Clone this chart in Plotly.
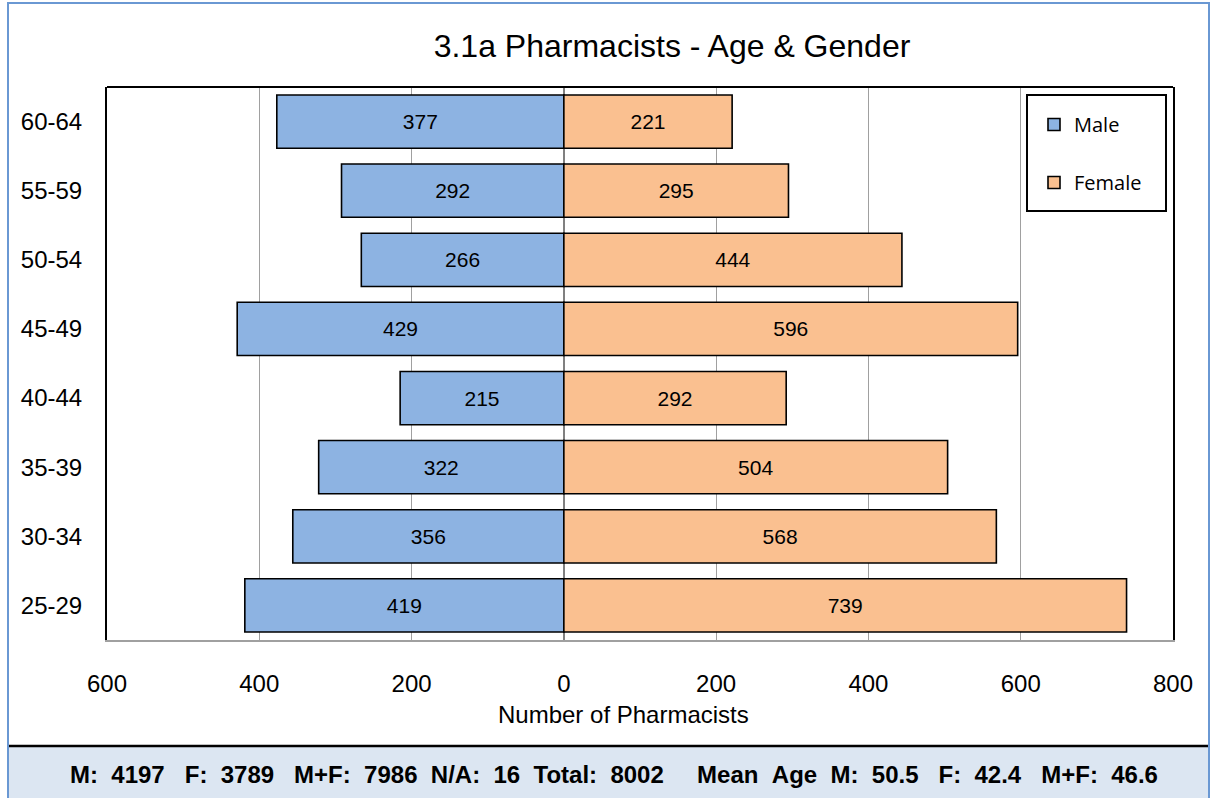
import plotly.graph_objects as go

# ---- data ----
age_groups = ["25-29", "30-34", "35-39", "40-44", "45-49", "50-54", "55-59", "60-64"]
male = [419, 356, 322, 215, 429, 266, 292, 377]
female = [739, 568, 504, 292, 596, 444, 295, 221]
x_tick_vals = [-600, -400, -200, 0, 200, 400, 600, 800]
x_tick_text = ["600", "400", "200", "0", "200", "400", "600", "800"]
title_text = "3.1a Pharmacists - Age & Gender"
x_title = "Number of Pharmacists"
summary = [("M", "4197"), ("F", "3789"), ("M+F", "7986"), ("N/A", "16"), ("Total", "8002")]
mean_age = [("M", "50.5"), ("F", "42.4"), ("M+F", "46.6")]

W, H = 1211, 798
L, R, T, B = 107, 1173, 87, 640
FONT = "Liberation Sans, Arial, sans-serif"

def px(x):
    return (x - L) / (R - L)

def py(y):
    return (B - y) / (B - T)

fig = go.Figure()
fig.add_trace(go.Bar(
    y=age_groups, x=[-v for v in male], orientation="h", name="Male",
    marker=dict(color="#8db3e2", line=dict(color="#000000", width=1.6)),
    text=[str(v) for v in male], textposition="inside", insidetextanchor="middle",
    textangle=0, textfont=dict(family=FONT, size=21, color="#000000"),
    legendgroup="m", hoverinfo="skip",
))
fig.add_trace(go.Bar(
    y=age_groups, x=female, orientation="h", name="Female",
    marker=dict(color="#fac090", line=dict(color="#000000", width=1.6)),
    text=[str(v) for v in female], textposition="inside", insidetextanchor="middle",
    textangle=0, textfont=dict(family=FONT, size=21, color="#000000"),
    legendgroup="f", hoverinfo="skip",
))

sp = "\u00a0"
part1 = [f"{k}:{sp * 2}{v}" for k, v in summary]
part2 = [f"{k}:{sp * 2}{v}" for k, v in mean_age]
summary_text = (sp * 3).join(part1[:3]) + sp * 2 + part1[3] + sp * 2 + part1[4]
summary_text += sp * 5 + "Mean" + sp * 2 + "Age" + sp * 2 + (sp * 3).join(part2)

fig.update_layout(
    width=W, height=H,
    margin=dict(l=L, r=W - R, t=T, b=H - B, autoexpand=False),
    paper_bgcolor="#ffffff", plot_bgcolor="#ffffff",
    barmode="relative", bargap=0.23,
    font=dict(family=FONT, size=24, color="#000000"),
    title=dict(text=title_text, xref="paper", x=px(672), xanchor="center",
               y=1 - 46 / H, yanchor="middle",
               font=dict(family=FONT, size=32, color="#000000")),
    xaxis=dict(range=[-600, 800], tickvals=x_tick_vals, ticktext=x_tick_text,
               showgrid=True, gridcolor="#a0a0a0", gridwidth=1.3,
               zeroline=True, zerolinecolor="#808080", zerolinewidth=1.5,
               showline=True, linecolor="#a0a0a0", linewidth=2, mirror=False,
               ticks="", ticklabelstandoff=21,
               tickfont=dict(family=FONT, size=24, color="#000000"), fixedrange=True),
    yaxis=dict(showgrid=False, zeroline=False, showline=True, linecolor="#000000",
               linewidth=2, mirror=True, ticks="", ticklabelstandoff=18,
               tickfont=dict(family=FONT, size=24, color="#000000"), fixedrange=True),
    legend=dict(x=px(1034), y=py(105), xanchor="left", yanchor="top",
                bgcolor="rgba(0,0,0,0)", borderwidth=0,
                traceorder="grouped", tracegroupgap=29,
                font=dict(family="Open Sans, sans-serif", size=20, color="#000000"),
                itemclick=False, itemdoubleclick=False),
    showlegend=True,
)

shapes = [
    # top border of plot area
    dict(type="line", xref="paper", yref="paper", x0=0, x1=1, y0=1, y1=1,
         line=dict(color="#000000", width=2)),
    # legend frame
    dict(type="rect", xref="paper", yref="paper", x0=px(1027), x1=px(1166), y0=py(211), y1=py(95),
         fillcolor="#ffffff", line=dict(color="#000000", width=2), layer="above"),
    # bottom summary strip
    dict(type="rect", xref="paper", yref="paper", x0=px(8), x1=px(1209), y0=py(746), y1=py(800),
         fillcolor="#dce6f2", line=dict(width=0), layer="below"),
    dict(type="line", xref="paper", yref="paper", x0=px(8), x1=px(1209), y0=py(746), y1=py(746),
         line=dict(color="#000000", width=2.5)),
    # outer border
    dict(type="rect", xref="paper", yref="paper", x0=px(8), x1=px(1209), y0=py(3), y1=py(800),
         fillcolor="rgba(0,0,0,0)", line=dict(color="#6a98d3", width=2)),
]
fig.update_layout(shapes=shapes)

fig.add_annotation(text=x_title, xref="paper", yref="paper", x=px(623), y=py(714),
                   xanchor="center", yanchor="middle", showarrow=False,
                   font=dict(family=FONT, size=24, color="#000000"))
fig.add_annotation(text="<b>" + summary_text + "</b>", xref="paper", yref="paper",
                   x=px(614), y=py(774), xanchor="center", yanchor="middle", showarrow=False,
                   font=dict(family=FONT, size=24, color="#000000"))

fig.write_html("out.html", config={"displayModeBar": False},
               post_script="document.body.style.margin='0';")
